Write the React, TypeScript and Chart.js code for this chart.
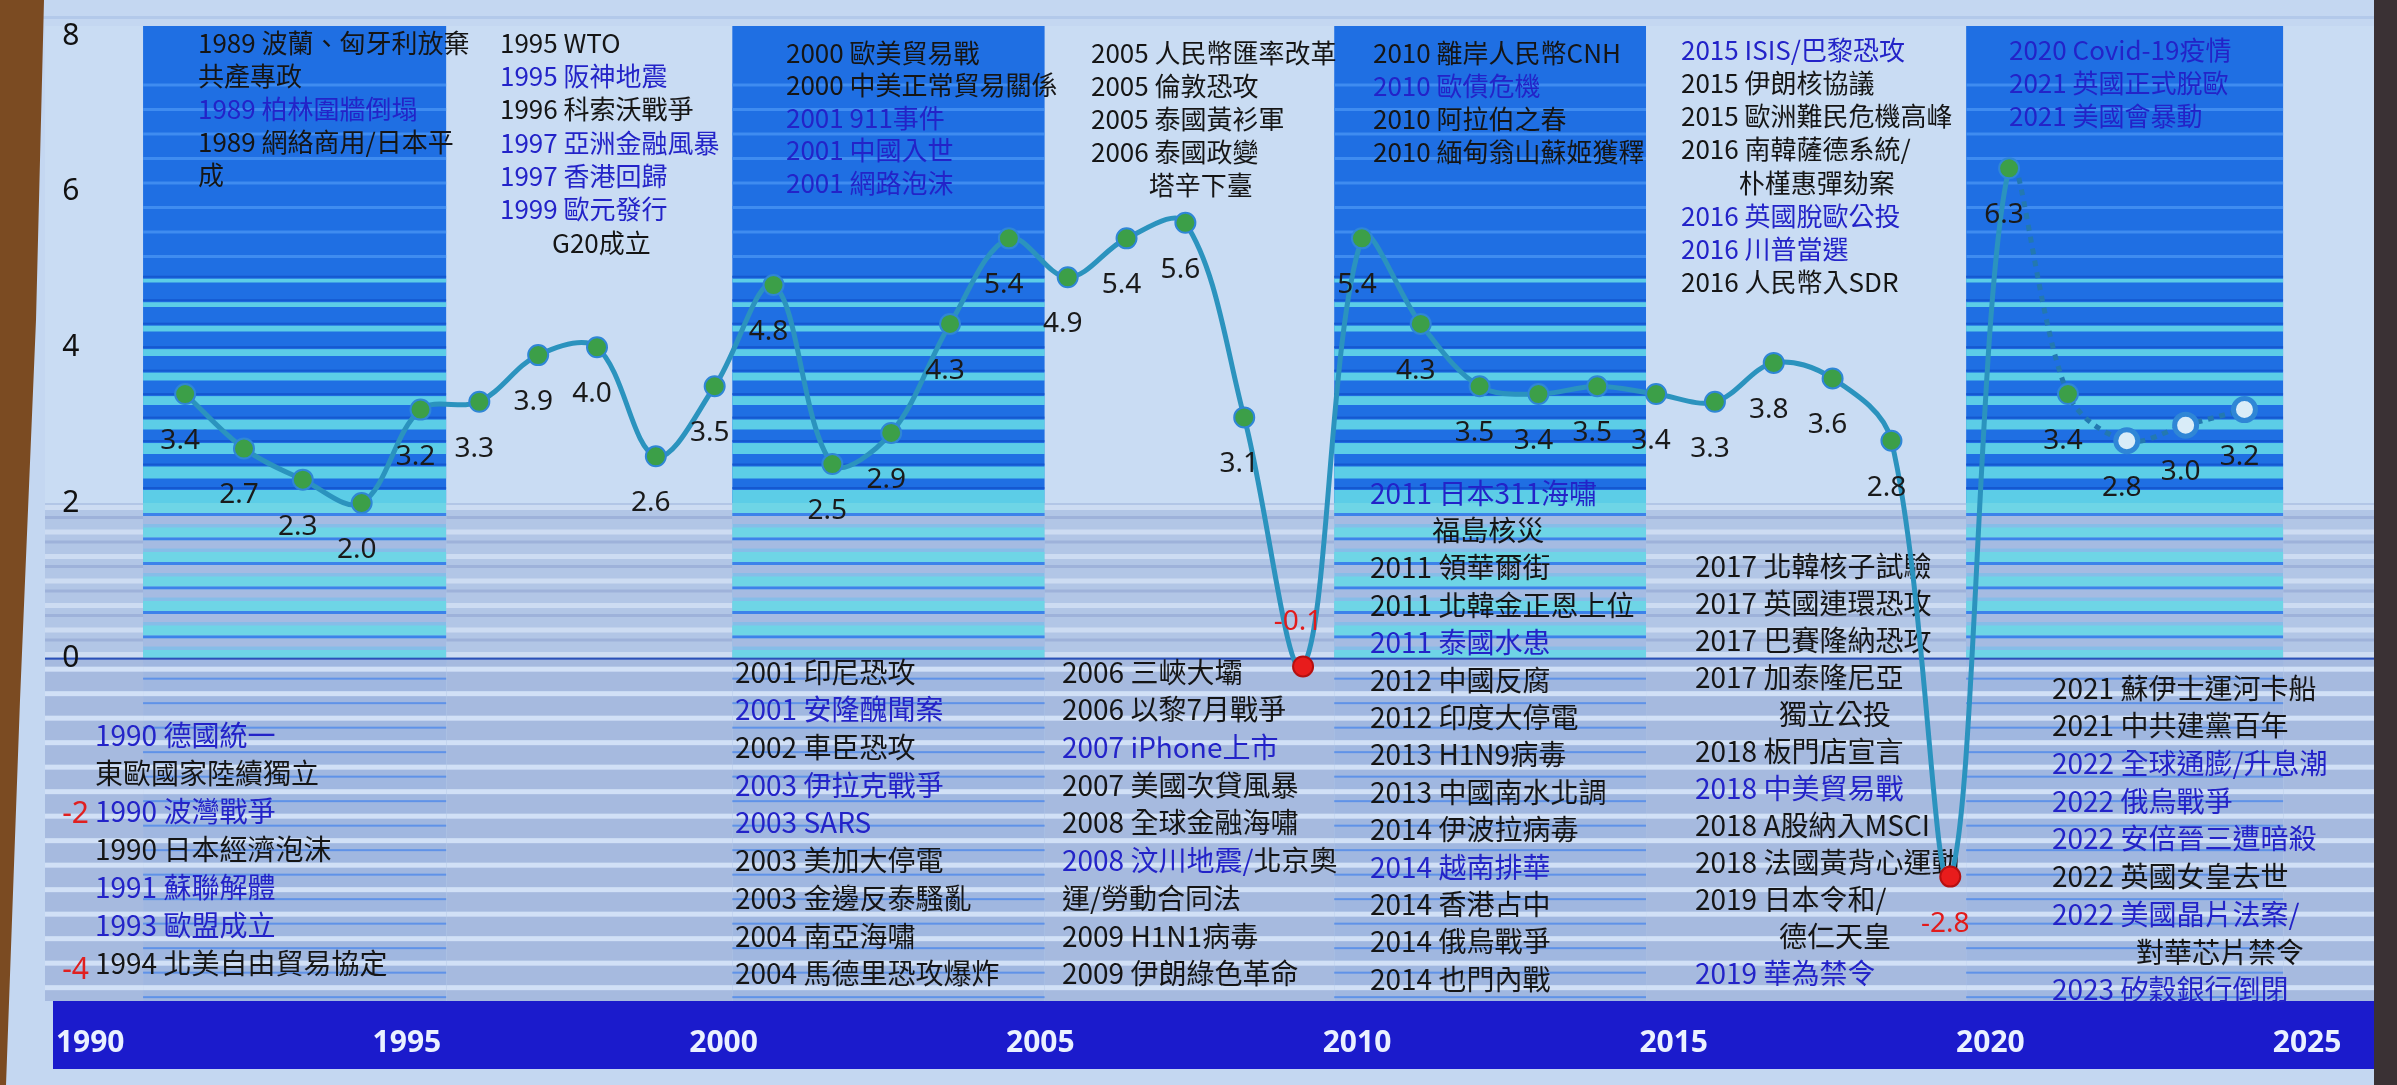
import React, { useEffect, useRef } from "react";
import { Chart, registerables } from "chart.js";

Chart.register(...registerables);

// ---------------- data ----------------
const YEARS = [
  1990, 1991, 1992, 1993, 1994, 1995, 1996, 1997, 1998, 1999,
  2000, 2001, 2002, 2003, 2004, 2005, 2006, 2007, 2008, 2009,
  2010, 2011, 2012, 2013, 2014, 2015, 2016, 2017, 2018, 2019,
  2020, 2021, 2022, 2023, 2024, 2025,
];
const GROWTH = [
  3.4, 2.7, 2.3, 2.0, 3.2, 3.3, 3.9, 4.0, 2.6, 3.5,
  4.8, 2.5, 2.9, 4.3, 5.4, 4.9, 5.4, 5.6, 3.1, -0.1,
  5.4, 4.3, 3.5, 3.4, 3.5, 3.4, 3.3, 3.8, 3.6, 2.8,
  -2.8, 6.3, 3.4, 2.8, 3.0, 3.2,
];
const X_TICKS = [1990, 1995, 2000, 2005, 2010, 2015, 2020, 2025];
const Y_TICKS = [-4, -2, 0, 2, 4, 6, 8];
const DASHED_FROM = 2021;
const FORECAST_FROM = 2023;
const LABEL_ABOVE = [2009];

const NOTES_1989 = ["1989 波蘭、匈牙利放棄", "共產專政", "1989 柏林圍牆倒塌", "1989 網絡商用/日本平", "成"];
const NOTES_1995 = ["1995 WTO", "1995 阪神地震", "1996 科索沃戰爭", "1997 亞洲金融風暴", "1997 香港回歸", "1999 歐元發行", "　　G20成立"];
const NOTES_2000 = ["2000 歐美貿易戰", "2000 中美正常貿易關係", "2001 911事件", "2001 中國入世", "2001 網路泡沫"];
const NOTES_2005 = ["2005 人民幣匯率改革", "2005 倫敦恐攻", "2005 泰國黃衫軍", "2006 泰國政變", "　　 塔辛下臺"];
const NOTES_2010 = ["2010 離岸人民幣CNH", "2010 歐債危機", "2010 阿拉伯之春", "2010 緬甸翁山蘇姬獲釋"];
const NOTES_2015 = ["2015 ISIS/巴黎恐攻", "2015 伊朗核協議", "2015 歐洲難民危機高峰", "2016 南韓薩德系統/", "　　 朴槿惠彈劾案", "2016 英國脫歐公投", "2016 川普當選", "2016 人民幣入SDR"];
const NOTES_2020 = ["2020 Covid-19疫情", "2021 英國正式脫歐", "2021 美國會暴動"];
const NOTES_1990 = ["1990 德國統一", "東歐國家陸續獨立", "1990 波灣戰爭", "1990 日本經濟泡沫", "1991 蘇聯解體", "1993 歐盟成立", "1994 北美自由貿易協定"];
const NOTES_2001 = ["2001 印尼恐攻", "2001 安隆醜聞案", "2002 車臣恐攻", "2003 伊拉克戰爭", "2003 SARS", "2003 美加大停電", "2003 金邊反泰騷亂", "2004 南亞海嘯", "2004 馬德里恐攻爆炸"];
const NOTES_2006 = ["2006 三峽大壩", "2006 以黎7月戰爭", "2007 iPhone上市", "2007 美國次貸風暴", "2008 全球金融海嘯", "2008 汶川地震/北京奧", "運/勞動合同法", "2009 H1N1病毒", "2009 伊朗綠色革命"];
const NOTES_2011 = ["2011 日本311海嘯", "　　 福島核災", "2011 領華爾街", "2011 北韓金正恩上位", "2011 泰國水患", "2012 中國反腐", "2012 印度大停電", "2013 H1N9病毒", "2013 中國南水北調", "2014 伊波拉病毒", "2014 越南排華", "2014 香港占中", "2014 俄烏戰爭", "2014 也門內戰"];
const NOTES_2017 = ["2017 北韓核子試驗", "2017 英國連環恐攻", "2017 巴賽隆納恐攻", "2017 加泰隆尼亞", "　　　獨立公投", "2018 板門店宣言", "2018 中美貿易戰", "2018 A股納入MSCI", "2018 法國黃背心運動", "2019 日本令和/", "　　　德仁天皇", "2019 華為禁令"];
const NOTES_2021 = ["2021 蘇伊士運河卡船", "2021 中共建黨百年", "2022 全球通膨/升息潮", "2022 俄烏戰爭", "2022 安倍晉三遭暗殺", "2022 英國女皇去世", "2022 美國晶片法案/", "　　　對華芯片禁令", "2023 矽穀銀行倒閉"];

const HIGHLIGHTED = [
  "1989 柏林圍牆倒塌", "1995 阪神地震", "1997 亞洲金融風暴", "1997 香港回歸", "1999 歐元發行",
  "2001 911事件", "2001 中國入世", "2001 網路泡沫", "2010 歐債危機", "2015 ISIS/巴黎恐攻",
  "2016 英國脫歐公投", "2016 川普當選", "2020 Covid-19疫情", "2021 英國正式脫歐", "2021 美國會暴動",
  "1990 德國統一", "1990 波灣戰爭", "1991 蘇聯解體", "1993 歐盟成立", "2001 安隆醜聞案",
  "2003 伊拉克戰爭", "2003 SARS", "2007 iPhone上市", "2008 汶川地震/", "2011 日本311海嘯",
  "2011 泰國水患", "2014 越南排華", "2018 中美貿易戰", "2019 華為禁令", "2022 全球通膨/升息潮",
  "2022 俄烏戰爭", "2022 安倍晉三遭暗殺", "2022 美國晶片法案/", "2023 矽穀銀行倒閉",
];

// ---------------- layout / style ----------------
const NOTE_BLOCKS = [
  { lines: NOTES_1989, x: 198, y: 43, gap: 33, size: 26 },
  { lines: NOTES_1995, x: 500, y: 43, gap: 33.3, size: 26 },
  { lines: NOTES_2000, x: 786, y: 53, gap: 32.5, size: 26 },
  { lines: NOTES_2005, x: 1091, y: 53, gap: 33, size: 26 },
  { lines: NOTES_2010, x: 1373, y: 53, gap: 33, size: 26 },
  { lines: NOTES_2015, x: 1681, y: 50, gap: 33.2, size: 26 },
  { lines: NOTES_2020, x: 2009, y: 50, gap: 33, size: 26 },
  { lines: NOTES_1990, x: 95, y: 735, gap: 38, size: 28 },
  { lines: NOTES_2001, x: 735, y: 672, gap: 37.7, size: 28 },
  { lines: NOTES_2006, x: 1062, y: 672, gap: 37.7, size: 28 },
  { lines: NOTES_2011, x: 1370, y: 493, gap: 37.4, size: 28 },
  { lines: NOTES_2017, x: 1695, y: 566, gap: 37, size: 28 },
  { lines: NOTES_2021, x: 2052, y: 688, gap: 37.7, size: 28 },
];
// era column edges, in year units of the x scale
const COLUMN_EDGES = [1989.285, 1994.44, 1999.3, 2004.61, 2009.53, 2014.83, 2020.27, 2025.66];

const BLUE_TXT = "#2323c8";
const BLACK_TXT = "#151515";
const CJK = '"Noto Sans CJK TC", "Noto Sans", sans-serif';

const backgroundPlugin = {
  id: "slideBackground",
  beforeDraw(chart: any) {
    const { ctx, width: W, height: H } = chart;
    const xs = chart.scales.x;
    const ys = chart.scales.y;
    const TOP = 26, BOT = 1001, LEFT = 45, RIGHT = 2374;
    const s1 = ys.getPixelForValue(2);
    const s2 = ys.getPixelForValue(0);
    const period = 24.5;
    ctx.save();
    ctx.fillStyle = "#c4d7f1";
    ctx.fillRect(0, 0, W, H);
    ctx.fillStyle = "#b3c9ea";
    ctx.fillRect(0, 16, W, 3);

    const edges = COLUMN_EDGES.map((v) => xs.getPixelForValue(v));
    const bounds = [LEFT, ...edges, RIGHT];
    for (let i = 0; i < bounds.length - 1; i++) {
      const x0 = bounds[i], x1 = bounds[i + 1], w = x1 - x0;
      const dark = i % 2 === 1;
      // upper part
      ctx.fillStyle = dark ? "#1f6fe3" : "#c9dcf3";
      ctx.fillRect(x0, TOP, w, s1 - TOP);
      for (let k = 0; ; k++) {
        const yy = s1 - k * period;
        if (yy < TOP + 40) break;
        const f = (yy - TOP) / (s1 - TOP);
        if (dark) {
          if (f > 0.5) {
            const t = 3 + 10 * (f - 0.5) * 2;
            ctx.fillStyle = "#5ccde7";
            ctx.fillRect(x0, yy - t, w, t);
            ctx.fillStyle = "#1558d0";
            ctx.fillRect(x0, yy - t - 3, w, 2);
          } else {
            ctx.fillStyle = "#3f8cf0";
            ctx.fillRect(x0, yy - 3, w, 3);
          }
        }
      }
      // transition part (value 2 .. 0)
      ctx.fillStyle = dark ? "#86bde8" : "#b2c6e6";
      ctx.fillRect(x0, s1, w, s2 - s1);
      for (let k = 0; ; k++) {
        const yy = s1 + k * period;
        if (yy > s2 - 4) break;
        if (dark) {
          ctx.fillStyle = "#6ed5e6";
          ctx.fillRect(x0, yy, w, 10);
          ctx.fillStyle = "#3c82ea";
          ctx.fillRect(x0, yy + 10, w, 3);
          ctx.fillStyle = "#a5bbe2";
          ctx.fillRect(x0, yy + 13, w, Math.min(8, s2 - yy - 13));
        } else {
          ctx.fillStyle = "#cddcf2";
          ctx.fillRect(x0, yy + 2, w, 5);
          ctx.fillStyle = "#9eb2da";
          ctx.fillRect(x0, yy + 13, w, 3);
        }
      }
      // lower part (below 0)
      ctx.fillStyle = dark ? "#a0b7e0" : "#a6badf";
      ctx.fillRect(x0, s2, w, BOT - s2);
      for (let k = 0; ; k++) {
        const yy = s2 + k * period;
        if (yy > BOT - 4) break;
        ctx.fillStyle = "#d1e0f6";
        ctx.fillRect(x0, yy + 8, w, 5);
        if (dark) {
          ctx.fillStyle = "#5f92e8";
          ctx.fillRect(x0, yy + 19, w, 2);
        }
      }
    }
    // zero line
    ctx.fillStyle = "#2a50b8";
    ctx.fillRect(LEFT, s2 - 1, RIGHT - LEFT, 2);

    // x-axis band
    ctx.fillStyle = "#1b1bcc";
    ctx.fillRect(53, 1001, RIGHT - 53, 68);

    // wooden wall at left, frame at right
    ctx.fillStyle = "#7b4b22";
    ctx.beginPath();
    ctx.moveTo(0, 0);
    ctx.lineTo(44, 0);
    ctx.lineTo(36, 320);
    ctx.lineTo(20, 700);
    ctx.lineTo(6, H);
    ctx.lineTo(0, H);
    ctx.closePath();
    ctx.fill();
    ctx.fillStyle = "#3a3134";
    ctx.fillRect(RIGHT, 0, W - RIGHT, H);
    ctx.restore();
  },
};

function drawNoteLine(ctx: CanvasRenderingContext2D, text: string, x: number, y: number) {
  const hi = HIGHLIGHTED.find((h) => text.startsWith(h));
  if (hi) {
    ctx.fillStyle = BLUE_TXT;
    ctx.fillText(hi, x, y);
    if (text.length > hi.length) {
      const w = ctx.measureText(hi).width;
      ctx.fillStyle = BLACK_TXT;
      ctx.fillText(text.slice(hi.length), x + w, y);
    }
  } else {
    ctx.fillStyle = BLACK_TXT;
    ctx.fillText(text, x, y);
  }
}

const notesPlugin = {
  id: "eventNotes",
  beforeDatasetsDraw(chart: any) {
    const { ctx } = chart;
    ctx.save();
    ctx.textAlign = "left";
    ctx.textBaseline = "middle";
    NOTE_BLOCKS.forEach((b) => {
      ctx.font = `${b.size}px ${CJK}`;
      b.lines.forEach((line, i) => drawNoteLine(ctx, line, b.x, b.y + i * b.gap));
    });
    ctx.restore();
  },
};

const valueLabelPlugin = {
  id: "valueLabels",
  afterDatasetsDraw(chart: any) {
    const { ctx } = chart;
    const meta = chart.getDatasetMeta(0);
    ctx.save();
    ctx.font = '28px "Noto Sans", sans-serif';
    ctx.textAlign = "center";
    ctx.textBaseline = "middle";
    meta.data.forEach((pt: any, i: number) => {
      const v = GROWTH[i];
      const above = LABEL_ABOVE.includes(YEARS[i]);
      ctx.fillStyle = v < 0 ? "#e21b1b" : "#1a1a1a";
      ctx.fillText(v.toFixed(1), pt.x - 5, above ? pt.y - 44 : pt.y + 47);
    });
    ctx.restore();
  },
};

export default function App() {
  const canvasRef = useRef<HTMLCanvasElement | null>(null);

  useEffect(() => {
    if (!canvasRef.current) return;
    const chart = new Chart(canvasRef.current, {
      type: "line",
      data: {
        datasets: [
          {
            data: YEARS.map((yr, i) => ({ x: yr, y: GROWTH[i] })),
            borderColor: "#2b93be",
            borderWidth: 5,
            tension: 0.35,
            pointRadius: (c: any) => (YEARS[c.dataIndex] >= FORECAST_FROM ? 11 : 10),
            pointBackgroundColor: (c: any) => {
              const v = GROWTH[c.dataIndex];
              if (v < 0) return "#e81c1c";
              if (YEARS[c.dataIndex] >= FORECAST_FROM) return "#d9ecf8";
              return "#3c9f48";
            },
            pointBorderColor: (c: any) => {
              const v = GROWTH[c.dataIndex];
              if (v < 0) return "#b51010";
              return "#2f86d6";
            },
            pointBorderWidth: (c: any) => (YEARS[c.dataIndex] >= FORECAST_FROM ? 5 : 2),
            segment: {
              borderDash: (c: any) => (YEARS[c.p0DataIndex] >= DASHED_FROM ? [6, 6] : undefined),
              borderColor: (c: any) => (YEARS[c.p0DataIndex] >= DASHED_FROM ? "#2378b0" : undefined),
            },
          } as any,
        ],
      },
      options: {
        animation: false,
        responsive: true,
        maintainAspectRatio: false,
        layout: { padding: { top: 10, right: 27, left: 0, bottom: 0 } },
        plugins: {
          legend: { display: false },
          tooltip: { enabled: false },
          title: { display: false },
        },
        scales: {
          x: { type: "linear", min: 1987.604, max: 2026.381, display: false },
          xb: {
            type: "linear",
            position: "bottom",
            min: 1989.273,
            max: 2025.294,
            grid: { display: false, drawTicks: false },
            border: { display: false },
            afterBuildTicks: (s: any) => {
              s.ticks = X_TICKS.map((v) => ({ value: v }));
            },
            afterFit: (s: any) => {
              s.height = 115;
            },
            ticks: {
              autoSkip: false,
              maxRotation: 0,
              padding: 55,
              color: "#eaf1ff",
              font: { family: '"Noto Sans", sans-serif', size: 30, weight: "bold" },
              callback: (v: any) => String(v),
            },
          },
          y: {
            type: "linear",
            position: "left",
            min: -4,
            max: 8,
            grid: { display: false },
            border: { display: false },
            afterBuildTicks: (s: any) => {
              s.ticks = Y_TICKS.map((v) => ({ value: v }));
            },
            afterFit: (s: any) => {
              s.width = 40;
            },
            ticks: {
              mirror: true,
              padding: 18,
              color: (c: any) => (c.tick && c.tick.value < 0 ? "#e02020" : "#111111"),
              font: { family: '"Noto Sans", sans-serif', size: 30 },
              callback: (v: any) => String(v),
            },
          },
        } as any,
      },
      plugins: [backgroundPlugin, notesPlugin, valueLabelPlugin],
    });
    return () => chart.destroy();
  }, []);

  return (
    <div style={{ position: "fixed", left: 0, top: 0, width: "2397px", height: "1085px" }}>
      <canvas ref={canvasRef} />
    </div>
  );
}
